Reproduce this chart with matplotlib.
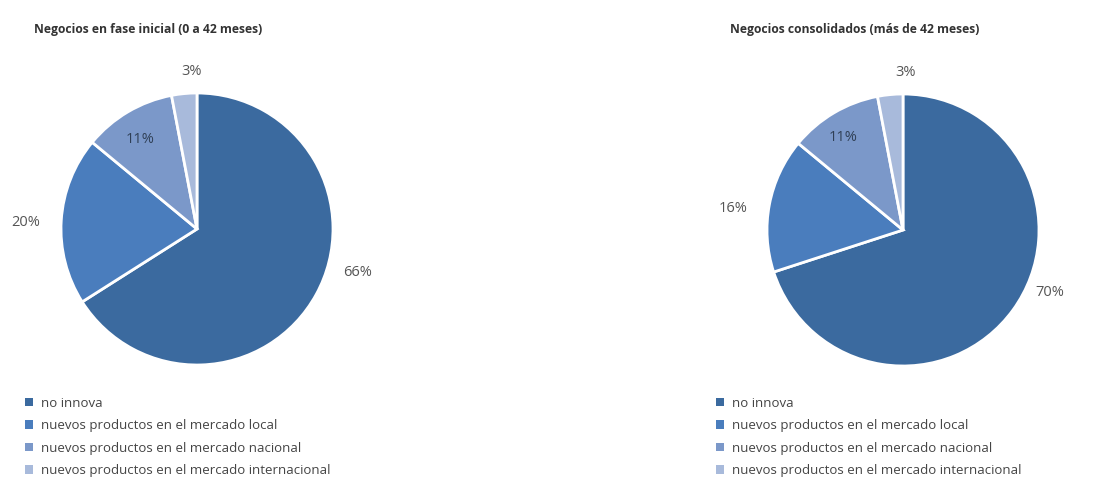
import matplotlib.pyplot as plt
from matplotlib.patches import Patch

plt.rcParams['font.family'] = ['Open Sans', 'DejaVu Sans']

# datos
categorias = ["no innova",
              "nuevos productos en el mercado local",
              "nuevos productos en el mercado nacional",
              "nuevos productos en el mercado internacional"]
inicial = [66, 20, 11, 3]
consolidados = [70, 16, 11, 3]
titulos = ["Negocios en fase inicial (0 a 42 meses)",
           "Negocios consolidados (más de 42 meses)"]

colores = ["#3b6a9f", "#4a7dbd", "#7b98c9", "#a8badb"]

W, H = 1104, 501
fig = plt.figure(figsize=(W / 100, H / 100), dpi=100)

# posiciones de las etiquetas (en unidades del radio)
pos_inicial = [(1.18, -0.32), (-1.26, 0.05), (-0.42, 0.66), (-0.04, 1.16)]
pos_consol = [(1.08, -0.46), (-1.25, 0.16), (-0.44, 0.68), (0.02, 1.16)]


def dibujar_pie(cx, cy, r, valores, posiciones, titulo, tx, lx):
    ax = fig.add_axes([(cx - r) / W, (H - cy - r) / H, 2 * r / W, 2 * r / H])
    ax.pie(valores, colors=colores, startangle=90, counterclock=False,
           radius=1, wedgeprops=dict(edgecolor="white", linewidth=2))
    ax.set_xlim(-1, 1)
    ax.set_ylim(-1, 1)
    ax.set_aspect("equal")
    ax.axis("off")
    for i, (v, (x, y)) in enumerate(zip(valores, posiciones)):
        col = "#2f3f55" if i == 2 else "#555555"
        ax.text(x, y, f"{v}%", ha="center", va="center", fontsize=10.5, color=col)
    fig.text(tx / W, 1 - 30 / H, titulo, ha="center", va="center",
             fontsize=8.7, fontweight="bold", color="#333333")
    handles = [Patch(facecolor=c, edgecolor="none") for c in colores]
    fig.legend(handles, categorias, loc="upper left",
               bbox_to_anchor=(lx / W, 1 - 390 / H), frameon=False,
               fontsize=9.5, handlelength=0.65, handleheight=0.65,
               handletextpad=0.6, labelspacing=0.72, borderpad=0,
               labelcolor="#444444")


dibujar_pie(197, 229, 136, inicial, pos_inicial, titulos[0], 148, 18)
dibujar_pie(903, 230, 136, consolidados, pos_consol, titulos[1], 855, 709)

fig.savefig("out.png", dpi=100, facecolor="white")
